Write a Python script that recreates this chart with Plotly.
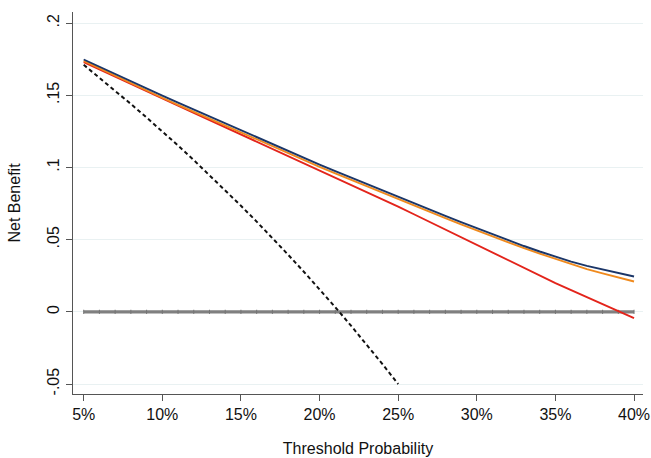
import plotly.graph_objects as go

# Threshold probabilities (%), evaluated at 1% steps
threshold = list(range(5, 41))

# Net benefit of the three prediction models
model_navy = [0.1748, 0.1697, 0.1646, 0.1596, 0.1547, 0.1498, 0.1449, 0.1401, 0.1353,
              0.1304, 0.1256, 0.1208, 0.1160, 0.1112, 0.1066, 0.1020, 0.0974, 0.0929,
              0.0884, 0.0840, 0.0796, 0.0752, 0.0708, 0.0664, 0.0621, 0.0579, 0.0537,
              0.0496, 0.0456, 0.0418, 0.0381, 0.0348, 0.0318, 0.0292, 0.0268, 0.0245]
model_orange = [0.1738, 0.1686, 0.1634, 0.1582, 0.1532, 0.1483, 0.1434, 0.1386, 0.1338,
                0.1289, 0.1241, 0.1193, 0.1145, 0.1097, 0.1051, 0.1005, 0.0959, 0.0914,
                0.0869, 0.0825, 0.0781, 0.0737, 0.0693, 0.0649, 0.0606, 0.0564, 0.0522,
                0.0481, 0.0441, 0.0403, 0.0366, 0.0329, 0.0296, 0.0266, 0.0238, 0.0210]
model_red = [0.1730, 0.1679, 0.1629, 0.1579, 0.1529, 0.1479, 0.1429, 0.1379, 0.1329,
             0.1279, 0.1229, 0.1180, 0.1131, 0.1082, 0.1033, 0.0984, 0.0934, 0.0884,
             0.0833, 0.0781, 0.0729, 0.0676, 0.0623, 0.0569, 0.0515, 0.0461, 0.0407,
             0.0354, 0.0300, 0.0248, 0.0199, 0.0150, 0.0102, 0.0053, 0.0005, -0.0044]

# Treat-all strategy, shown until it drops to -0.05
treat_all_x = list(range(5, 26))
treat_all = [0.1711, 0.1622, 0.1532, 0.1440, 0.1346, 0.1250, 0.1152, 0.1051, 0.0948,
             0.0843, 0.0735, 0.0625, 0.0512, 0.0396, 0.0278, 0.0156, 0.0032, -0.0096,
             -0.0227, -0.0362, -0.0500]

# Treat-none strategy
treat_none = [0.0] * len(threshold)

x_ticks = [5, 10, 15, 20, 25, 30, 35, 40]
x_tick_text = ["5%", "10%", "15%", "20%", "25%", "30%", "35%", "40%"]
y_ticks = [-0.05, 0, 0.05, 0.1, 0.15, 0.2]
y_tick_text = ["-.05", "0", ".05", ".1", ".15", ".2"]

fig = go.Figure()

fig.add_trace(go.Scatter(
    x=threshold, y=treat_none, mode="lines+markers",
    line=dict(color="#808080", width=3.2),
    marker=dict(symbol="line-ns", size=3, line=dict(color="#747474", width=1)),
    hoverinfo="skip", showlegend=False))

fig.add_trace(go.Scatter(
    x=treat_all_x, y=treat_all, mode="lines",
    line=dict(color="#111111", width=2, dash="4px,3px"),
    showlegend=False))

fig.add_trace(go.Scatter(
    x=threshold, y=model_red, mode="lines",
    line=dict(color="#e3241b", width=1.9), showlegend=False))
fig.add_trace(go.Scatter(
    x=threshold, y=model_orange, mode="lines",
    line=dict(color="#f08a1d", width=1.9), showlegend=False))
fig.add_trace(go.Scatter(
    x=threshold, y=model_navy, mode="lines",
    line=dict(color="#1b3668", width=1.9), showlegend=False))

axis_font = dict(family="Liberation Sans, Arial, sans-serif", size=16, color="#111111")

fig.update_layout(
    width=651, height=458,
    margin=dict(l=73, r=8, t=12, b=64),
    paper_bgcolor="white", plot_bgcolor="white",
    font=axis_font,
    xaxis=dict(
        range=[4.32, 40.57],
        tickvals=x_ticks, ticktext=x_tick_text,
        showgrid=False, zeroline=False,
        showline=True, linecolor="#555555", linewidth=1.4,
        ticks="outside", ticklen=6, tickwidth=1.2, tickcolor="#555555",
        tickfont=axis_font,
        title=dict(text="Threshold Probability", font=axis_font, standoff=20),
        automargin=False,
    ),
    yaxis=dict(
        range=[-0.0569, 0.2077],
        tickvals=y_ticks, ticktext=y_tick_text, tickangle=-90,
        showgrid=True, gridcolor="#e9f1f2", gridwidth=1.2,
        zeroline=False,
        showline=True, linecolor="#555555", linewidth=1.4,
        ticks="outside", ticklen=6, tickwidth=1.2, tickcolor="#555555",
        tickfont=axis_font,
        title=dict(text="Net Benefit", font=axis_font, standoff=20),
        automargin=False,
    ),
)

fig.write_html("out.html")
